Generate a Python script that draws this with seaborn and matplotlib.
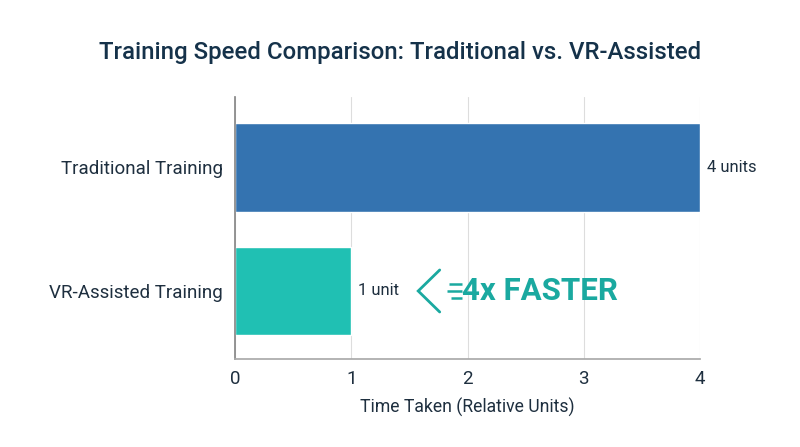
import matplotlib.pyplot as plt
import seaborn as sns
import pandas as pd

methods = ['Traditional Training', 'VR-Assisted Training']
times = [4, 1]
value_labels = ['4 units', '1 unit']
bar_colors = ['#3473b0', '#20c0b3']

sns.set_theme(style='whitegrid')
plt.rcParams['font.family'] = ['Roboto', 'DejaVu Sans']

df = pd.DataFrame({'Method': methods, 'Time': times})

fig = plt.figure(figsize=(8, 4.47), dpi=100)
ax = fig.add_axes([0.294, 0.197, 0.581, 0.586])

sns.barplot(data=df, x='Time', y='Method', hue='Method', palette=bar_colors,
            orient='h', width=0.72, legend=False, ax=ax, saturation=1)

for i, (v, lab) in enumerate(zip(times, value_labels)):
    ax.text(v + 0.06, i, lab, va='center', ha='left', fontsize=12, color='#1e2f3f')

ax.set_xlim(0, 4)
ax.set_ylim(1.55, -0.57)
ax.set_xticks([0, 1, 2, 3, 4])
ax.grid(axis='x', color='#dddddd', linewidth=0.8)
ax.grid(axis='y', visible=False)
ax.set_axisbelow(True)
for side in ['top', 'right']:
    ax.spines[side].set_visible(False)
ax.spines['left'].set_color('#888888')
ax.spines['bottom'].set_color('#aaaaaa')
ax.tick_params(axis='both', length=0, colors='#1e2f3f', labelsize=13.5)
ax.tick_params(axis='y', pad=9)
ax.tick_params(axis='x', pad=8)
ax.set_ylabel('')
ax.set_xlabel('Time Taken (Relative Units)', fontsize=12.7, color='#1e2f3f', labelpad=7)

fig.suptitle('Training Speed Comparison: Traditional vs. VR-Assisted',
             fontsize=17.3, fontweight='medium', color='#15324a',
             y=0.882, va='center')

# "4x FASTER" callout
teal = '#1aa9a0'
ax.plot([1.76, 1.575, 1.76], [0.83, 1.0, 1.17], color=teal, lw=2,
        solid_capstyle='round', solid_joinstyle='miter', clip_on=False)
for dy, x0 in [(-0.055, 1.84), (0.0, 1.82), (0.055, 1.86)]:
    ax.plot([x0, 1.95], [1.0 + dy, 1.0 + dy], color=teal, lw=1.8,
            solid_capstyle='butt')
ax.text(1.955, 1.0, '4x FASTER', fontsize=22.5, fontweight='bold', color=teal,
        va='center', ha='left')

fig.savefig('out.png', dpi=100)
